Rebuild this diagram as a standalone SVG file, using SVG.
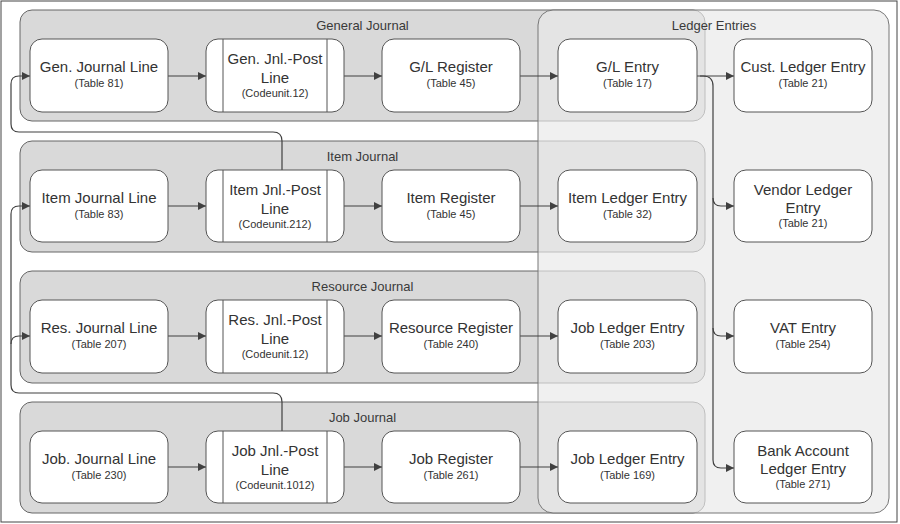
<svg xmlns="http://www.w3.org/2000/svg" width="900" height="524" viewBox="0 0 900 524">
<defs>
<style>
.frame{fill:#ffffff;stroke:#444;stroke-width:1}
.jrnl{fill:#d9d9d9;stroke:#666;stroke-width:1}
.ledger{fill:#e9e9e9;fill-opacity:0.68;stroke:#777;stroke-width:1}
.node{fill:#ffffff;stroke:#555;stroke-width:1}
.div{stroke:#555;stroke-width:1}
.title{font-family:"Liberation Sans",Arial,sans-serif;font-size:13px;fill:#3a3a3a;text-anchor:middle}
.main{font-family:"Liberation Sans",Arial,sans-serif;font-size:15px;fill:#333;text-anchor:middle}
.sub{font-family:"Liberation Sans",Arial,sans-serif;font-size:11px;fill:#333;text-anchor:middle}
.conn{fill:none;stroke:#404040;stroke-width:1.2}
</style>
<marker id="arr" markerUnits="userSpaceOnUse" markerWidth="9" markerHeight="9" refX="8" refY="4" orient="auto">
<path d="M0,0 L8,4 L0,8 z" fill="#404040"/>
</marker>
</defs>
<rect class="frame" x="1" y="1" width="896" height="521"/>

<g id="general-journal"><rect class="jrnl" x="20" y="10" width="685" height="111" rx="12"/><text class="title" x="362.5" y="30">General Journal</text></g>
<g id="item-journal"><rect class="jrnl" x="20" y="141" width="685" height="111" rx="12"/><text class="title" x="362.5" y="161">Item Journal</text></g>
<g id="resource-journal"><rect class="jrnl" x="20" y="271" width="685" height="112" rx="12"/><text class="title" x="362.5" y="291">Resource Journal</text></g>
<g id="job-journal"><rect class="jrnl" x="20" y="402" width="685" height="111" rx="12"/><text class="title" x="362.5" y="422">Job Journal</text></g>
<g id="ledger-entries"><rect class="ledger" x="538" y="10" width="351" height="503" rx="15"/><text class="title" x="714" y="30">Ledger Entries</text></g>

<g id="connectors">
<path class="conn" d="M168,76 H206" marker-end="url(#arr)"/>
<path class="conn" d="M344,76 H382" marker-end="url(#arr)"/>
<path class="conn" d="M520,76 H558" marker-end="url(#arr)"/>
<path class="conn" d="M697,76 H734" marker-end="url(#arr)"/>
<path class="conn" d="M168,206 H206" marker-end="url(#arr)"/>
<path class="conn" d="M344,206 H382" marker-end="url(#arr)"/>
<path class="conn" d="M520,206 H558" marker-end="url(#arr)"/>
<path class="conn" d="M168,336 H206" marker-end="url(#arr)"/>
<path class="conn" d="M344,336 H382" marker-end="url(#arr)"/>
<path class="conn" d="M520,336 H558" marker-end="url(#arr)"/>
<path class="conn" d="M168,467 H206" marker-end="url(#arr)"/>
<path class="conn" d="M344,467 H382" marker-end="url(#arr)"/>
<path class="conn" d="M520,467 H558" marker-end="url(#arr)"/>
<path class="conn" d="M700,76 H703 Q713,76 713,86 V460 Q713,468 721,468 H734" marker-end="url(#arr)"/>
<path class="conn" d="M713,198 Q713,206 721,206 H734" marker-end="url(#arr)"/>
<path class="conn" d="M713,328 Q713,336 721,336 H734" marker-end="url(#arr)"/>
<path class="conn" d="M282,170 V141 Q282,132 273,132 H19 Q11,132 11,124 V84 Q11,76 19,76 H30" marker-end="url(#arr)"/>
<path class="conn" d="M282,431 V402 Q282,393 273,393 H19 Q11,393 11,385 V214 Q11,206 19,206 H30" marker-end="url(#arr)"/>
<path class="conn" d="M11,344 Q11,336 19,336 H30" marker-end="url(#arr)"/>
</g>

<g id="gen-journal-line"><rect class="node" x="30" y="39" width="138" height="73" rx="12"/><text class="main" x="99" y="72">Gen. Journal Line</text><text class="sub" x="99" y="87">(Table 81)</text></g>
<g id="gen-jnl-post-line"><rect class="node" x="206" y="39" width="138" height="73" rx="12"/><line class="div" x1="223" y1="39" x2="223" y2="112"/><line class="div" x1="327" y1="39" x2="327" y2="112"/><text class="main" x="275" y="64">Gen. Jnl.-Post</text><text class="main" x="275" y="82.5">Line</text><text class="sub" x="275" y="96.5">(Codeunit.12)</text></g>
<g id="gl-register"><rect class="node" x="382" y="39" width="138" height="73" rx="12"/><text class="main" x="451" y="72">G/L Register</text><text class="sub" x="451" y="87">(Table 45)</text></g>
<g id="gl-entry"><rect class="node" x="558" y="39" width="139" height="73" rx="12"/><text class="main" x="627.5" y="72">G/L Entry</text><text class="sub" x="627.5" y="87">(Table 17)</text></g>
<g id="cust-ledger-entry"><rect class="node" x="734" y="39" width="138" height="73" rx="12"/><text class="main" x="803" y="72">Cust. Ledger Entry</text><text class="sub" x="803" y="87">(Table 21)</text></g>

<g id="item-journal-line"><rect class="node" x="30" y="170" width="138" height="72" rx="12"/><text class="main" x="99" y="203">Item Journal Line</text><text class="sub" x="99" y="218">(Table 83)</text></g>
<g id="item-jnl-post-line"><rect class="node" x="206" y="170" width="138" height="72" rx="12"/><line class="div" x1="223" y1="170" x2="223" y2="242"/><line class="div" x1="327" y1="170" x2="327" y2="242"/><text class="main" x="275" y="195">Item Jnl.-Post</text><text class="main" x="275" y="213.5">Line</text><text class="sub" x="275" y="227.5">(Codeunit.212)</text></g>
<g id="item-register"><rect class="node" x="382" y="170" width="138" height="72" rx="12"/><text class="main" x="451" y="203">Item Register</text><text class="sub" x="451" y="218">(Table 45)</text></g>
<g id="item-ledger-entry"><rect class="node" x="558" y="170" width="139" height="72" rx="12"/><text class="main" x="627.5" y="203">Item Ledger Entry</text><text class="sub" x="627.5" y="218">(Table 32)</text></g>
<g id="vendor-ledger-entry"><rect class="node" x="734" y="170" width="138" height="72" rx="12"/><text class="main" x="803" y="195">Vendor Ledger</text><text class="main" x="803" y="213">Entry</text><text class="sub" x="803" y="227">(Table 21)</text></g>

<g id="res-journal-line"><rect class="node" x="30" y="300" width="138" height="73" rx="12"/><text class="main" x="99" y="333">Res. Journal Line</text><text class="sub" x="99" y="348">(Table 207)</text></g>
<g id="res-jnl-post-line"><rect class="node" x="206" y="300" width="138" height="73" rx="12"/><line class="div" x1="223" y1="300" x2="223" y2="373"/><line class="div" x1="327" y1="300" x2="327" y2="373"/><text class="main" x="275" y="325">Res. Jnl.-Post</text><text class="main" x="275" y="343.5">Line</text><text class="sub" x="275" y="357.5">(Codeunit.12)</text></g>
<g id="resource-register"><rect class="node" x="382" y="300" width="138" height="73" rx="12"/><text class="main" x="451" y="333">Resource Register</text><text class="sub" x="451" y="348">(Table 240)</text></g>
<g id="job-ledger-entry-203"><rect class="node" x="558" y="300" width="139" height="73" rx="12"/><text class="main" x="627.5" y="333">Job Ledger Entry</text><text class="sub" x="627.5" y="348">(Table 203)</text></g>
<g id="vat-entry"><rect class="node" x="734" y="300" width="138" height="73" rx="12"/><text class="main" x="803" y="333">VAT Entry</text><text class="sub" x="803" y="348">(Table 254)</text></g>

<g id="job-journal-line"><rect class="node" x="30" y="431" width="138" height="72" rx="12"/><text class="main" x="99" y="464">Job. Journal Line</text><text class="sub" x="99" y="479">(Table 230)</text></g>
<g id="job-jnl-post-line"><rect class="node" x="206" y="431" width="138" height="72" rx="12"/><line class="div" x1="223" y1="431" x2="223" y2="503"/><line class="div" x1="327" y1="431" x2="327" y2="503"/><text class="main" x="275" y="456">Job Jnl.-Post</text><text class="main" x="275" y="474.5">Line</text><text class="sub" x="275" y="488.5">(Codeunit.1012)</text></g>
<g id="job-register"><rect class="node" x="382" y="431" width="138" height="72" rx="12"/><text class="main" x="451" y="464">Job Register</text><text class="sub" x="451" y="479">(Table 261)</text></g>
<g id="job-ledger-entry-169"><rect class="node" x="558" y="431" width="139" height="72" rx="12"/><text class="main" x="627.5" y="464">Job Ledger Entry</text><text class="sub" x="627.5" y="479">(Table 169)</text></g>
<g id="bank-account-ledger-entry"><rect class="node" x="734" y="431" width="138" height="72" rx="12"/><text class="main" x="803" y="456">Bank Account</text><text class="main" x="803" y="474">Ledger Entry</text><text class="sub" x="803" y="488">(Table 271)</text></g>
</svg>
